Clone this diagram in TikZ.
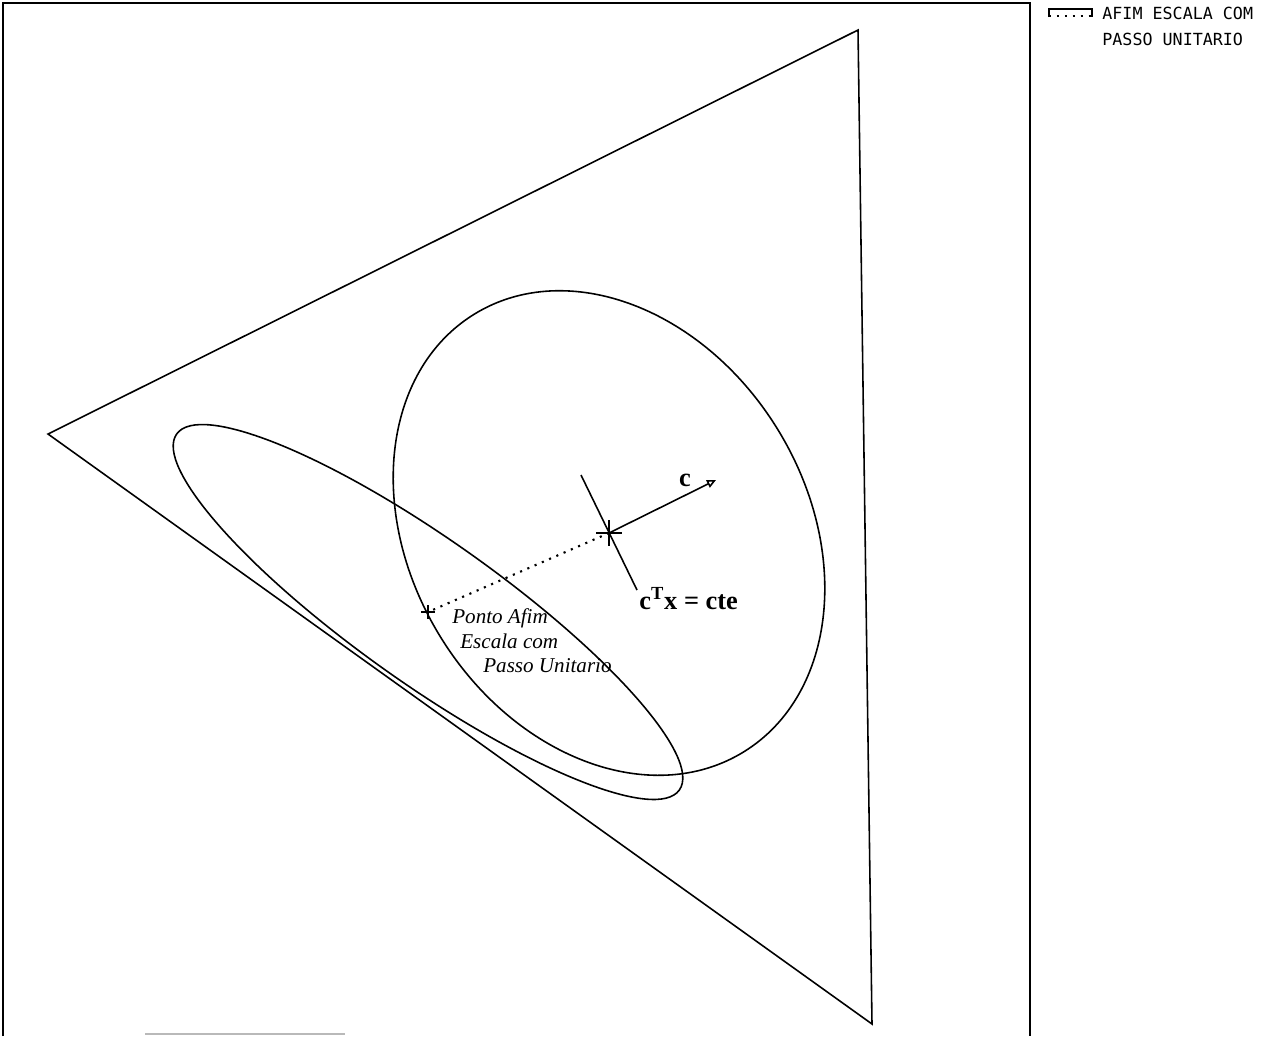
\documentclass[tikz,border=0pt]{standalone}
\usepackage{fontspec}
\setmainfont{Liberation Serif}
\newfontfamily\plotfont{DejaVu Sans Mono}
\usetikzlibrary{arrows.meta, positioning}

\begin{document}
\begin{tikzpicture}[x=0.02cm,y=-0.02cm,
  curve/.style={line width=0.9pt, line join=miter},
  crossmark/.style={line width=1.1pt},
  affstep/.style={line width=1.2pt, dash pattern=on 1.2pt off 3.3pt},
  ptlabel/.style={anchor=base west, inner sep=0pt, font=\fontsize{12}{14}\selectfont\itshape},
  boldlabel/.style={inner sep=0pt, font=\fontsize{15}{18}\selectfont\bfseries},
  legendtext/.style={anchor=west, inner sep=0pt, font=\fontsize{9.5}{11}\selectfont\plotfont}]
  \useasboundingbox (0,0) rectangle (1274,1036);
  \def\crossbig{13}
  \def\crosssmall{7}
  % plot frame (open at the bottom)
  \draw[line width=1.2pt] (3,1036) -- (3,3) -- (1030,3) -- (1030,1036);
  \draw[gray!55, line width=1pt] (145,1034) -- (345,1034);
  % feasible triangle
  \coordinate (vtop) at (858,30);
  \coordinate (vleft) at (48,434);
  \coordinate (vbot) at (872,1024);
  \draw[curve] (vtop) -- (vleft) -- (vbot) -- cycle;
  % current point, affine step and ellipsoids
  \coordinate (xk) at (609,533);
  \coordinate (xnew) at (428,612);
  \draw[curve] (xk) ellipse [x radius=257, y radius=198, rotate=-58.4];
  \draw[curve] (xnew) ellipse [x radius=308, y radius=72, rotate=-35.3];
  \coordinate (lvtop) at (581,475);
  \coordinate (lvbot) at (637,590);
  \coordinate (ctip) at (716,480);
  \draw[curve] (lvtop) -- (lvbot);
  \draw[curve, -{Triangle[open, length=1.8mm, width=1.6mm]}] (xk) -- (ctip);
  \draw[affstep] (xk) -- (xnew);
  \draw[crossmark] (xk) ++(-\crossbig,0) -- ++(2*\crossbig,0);
  \draw[crossmark] (xk) ++(0,-\crossbig) -- ++(0,2*\crossbig);
  \draw[crossmark] (xnew) ++(-\crosssmall,0) -- ++(2*\crosssmall,0);
  \draw[crossmark] (xnew) ++(0,-\crosssmall) -- ++(0,2*\crosssmall);
  \node[boldlabel] (clabel) at (685,480) {c};
  \node[boldlabel, anchor=base west] (lvlabel) at (639,609) {c\textsuperscript{T}x = cte};
  \node[ptlabel] (ptone) at (452,623) {Ponto Afim};
  \node[ptlabel] (pttwo) at (460,648) {Escala com};
  \node[ptlabel] (ptthree) at (483,672) {Passo Unitario};
  % legend
  \draw[line width=0.7pt] (1049,17) -- (1049,9) -- (1092,9) -- (1092,17);
  \draw[affstep, line width=0.9pt] (1049,16) -- (1092,16);
  \node[legendtext] (legone) at (1102,13) {AFIM ESCALA COM};
  \node[legendtext] (legtwo) at (1102,39) {PASSO UNITARIO};
\end{tikzpicture}
\end{document}
